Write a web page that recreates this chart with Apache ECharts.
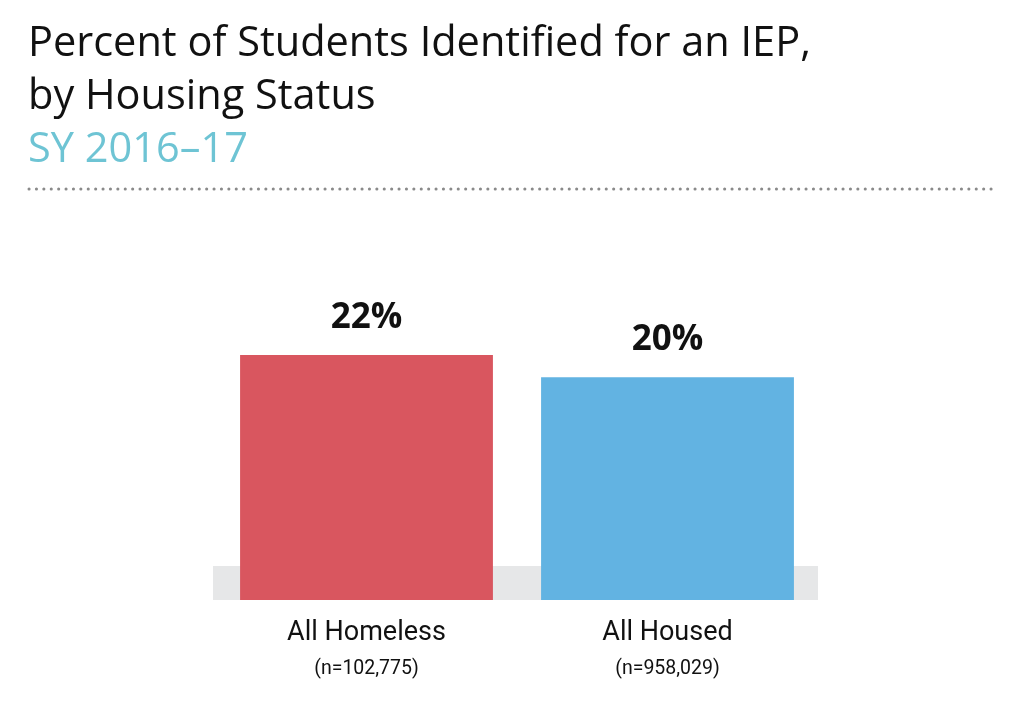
<!DOCTYPE html>
<html><head><meta charset="utf-8">
<script src="https://cdn.jsdelivr.net/npm/echarts@6/dist/echarts.min.js"></script>
<style>html,body{margin:0;padding:0;background:#fff}#c{width:1024px;height:720px}</style>
</head><body><div id="c"></div>
<script>
const categories = ['All Homeless', 'All Housed'];
const sampleSizes = ['(n=102,775)', '(n=958,029)'];
const values = [22, 20];
const barColors = ['#d9565f', '#62b3e2'];
const baseBand = [0, 3.05];

const chart = echarts.init(document.getElementById('c'));
chart.setOption({
  backgroundColor: '#fff',
  animation: false,
  title: [
    { text: 'Percent of Students Identified for an IEP,\nby Housing Status', left: 23, top: 13,
      textStyle: { fontFamily: 'Open Sans', fontWeight: 'normal', fontSize: 41.5, lineHeight: 53, color: '#111' } },
    { text: 'SY 2016–17', left: 23, top: 119,
      textStyle: { fontFamily: 'Open Sans', fontWeight: 'normal', fontSize: 41.5, lineHeight: 53, color: '#6ec4d4' } }
  ],
  graphic: [
    { type: 'line', shape: { x1: 29, y1: 189, x2: 998, y2: 189 },
      style: { stroke: '#8a8a8a', lineWidth: 3, lineDash: [0.1, 7.3], lineCap: 'round' } }
  ],
  grid: { left: 216, right: 206, top: 266, bottom: 120, containLabel: false },
  xAxis: {
    type: 'category', data: categories,
    axisLine: { show: false }, axisTick: { show: false },
    axisLabel: {
      margin: 16,
      formatter: (v, i) => '{a|' + v + '}\n{b|' + sampleSizes[i] + '}',
      rich: {
        a: { fontFamily: 'Roboto', fontSize: 27, color: '#111', lineHeight: 34 },
        b: { fontFamily: 'Roboto', fontSize: 19.5, color: '#111', lineHeight: 38 }
      }
    }
  },
  yAxis: { type: 'value', min: 0, max: 30, show: false, splitLine: { show: false } },
  series: [{
    type: 'bar', data: values.map((v, i) => ({ value: v, itemStyle: { color: barColors[i] } })),
    barCategoryGap: '16%',
    label: { show: true, position: 'top', distance: 20, formatter: '{c}%',
      fontFamily: 'Open Sans', fontWeight: 'bold', fontSize: 35, color: '#111' },
    markArea: { silent: true, itemStyle: { color: '#e6e7e8' },
      data: [[{ yAxis: baseBand[0], x: 213 }, { yAxis: baseBand[1], x: 818 }]] },
    z: 3
  }]
});
</script></body></html>
